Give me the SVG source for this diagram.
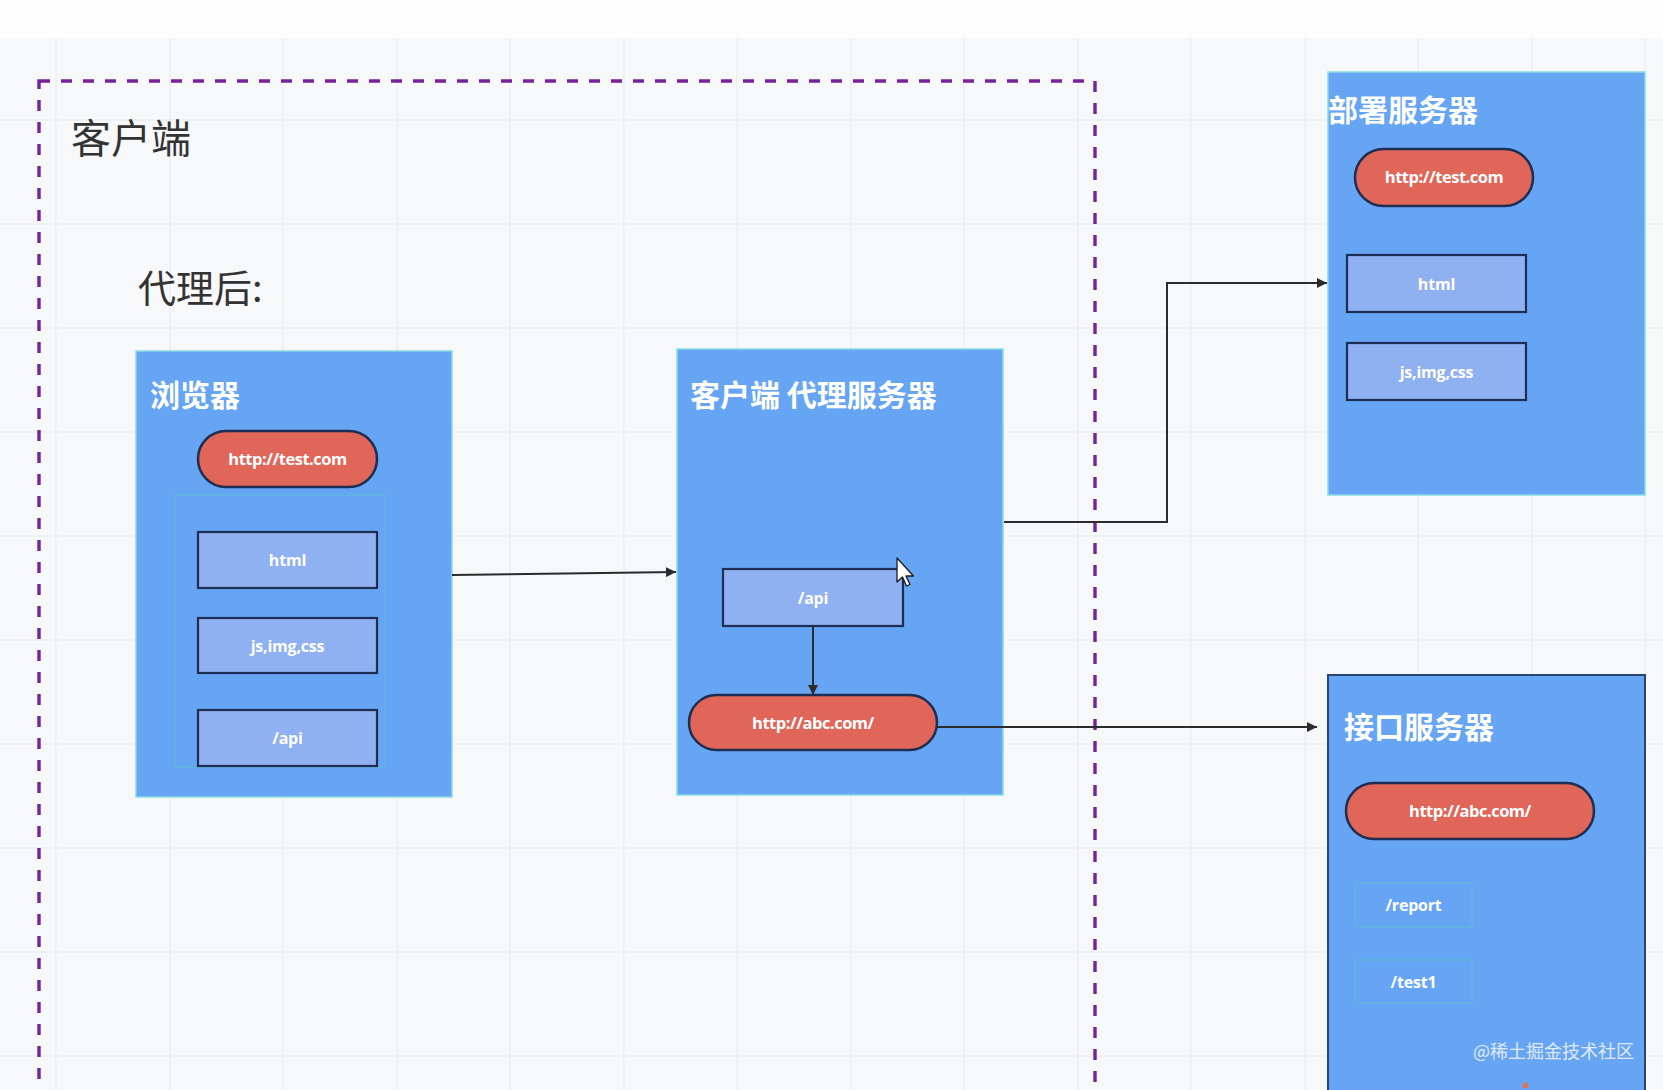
<svg xmlns="http://www.w3.org/2000/svg" width="1663" height="1090" viewBox="0 0 1663 1090">
  <defs>
    <marker id="arrow" viewBox="0 0 10 10" refX="10" refY="5" markerWidth="10" markerHeight="10" markerUnits="userSpaceOnUse" orient="auto">
      <path d="M0,0 L10,5 L0,10 Z" fill="#2b2b2b"/>
    </marker>
    <style>
      .grid line { stroke: #eceef1; stroke-width: 1.4; }
      .box { fill: #66a5f3; stroke: #86dce6; stroke-width: 1.5; }
      .box-dark { fill: #66a5f3; stroke: #2a4470; stroke-width: 2; }
      .item { fill: #8fb0f1; stroke: #1e2d52; stroke-width: 2.2; }
      .pill { fill: #df6659; stroke: #1e2d52; stroke-width: 2.5; }
      .ghost { fill: none; stroke: #5fc2cf; stroke-width: 1.2; opacity: 0.7; }
      .title { font-family: "Noto Sans CJK SC", "Noto Sans", sans-serif; font-weight: 700; font-size: 30px; fill: #ffffff; }
      .label { font-family: "Open Sans", "Liberation Sans", sans-serif; font-weight: 700; font-size: 16px; fill: #ffffff; text-anchor: middle; letter-spacing: -0.2px; }
      .url { font-size: 16.5px; letter-spacing: -0.5px; }
      .note { font-family: "Noto Sans CJK SC", "Noto Sans", sans-serif; font-weight: 400; fill: #333333; }
      .conn { fill: none; stroke: #2b2b2b; stroke-width: 2; }
    </style>
  </defs>

  <!-- canvas -->
  <rect x="0" y="0" width="1663" height="1090" fill="#f7f8fa"/>
  <rect x="0" y="0" width="1663" height="38" fill="#fdfdfd"/>

  <!-- background grid -->
  <g class="grid">
    <line x1="0" y1="120" x2="1663" y2="120"/>
    <line x1="0" y1="224" x2="1663" y2="224"/>
    <line x1="0" y1="328" x2="1663" y2="328"/>
    <line x1="0" y1="432" x2="1663" y2="432"/>
    <line x1="0" y1="536" x2="1663" y2="536"/>
    <line x1="0" y1="640" x2="1663" y2="640"/>
    <line x1="0" y1="744" x2="1663" y2="744"/>
    <line x1="0" y1="848" x2="1663" y2="848"/>
    <line x1="0" y1="952" x2="1663" y2="952"/>
    <line x1="0" y1="1056" x2="1663" y2="1056"/>
    <line x1="56" y1="38" x2="56" y2="1090"/>
    <line x1="170" y1="38" x2="170" y2="1090"/>
    <line x1="283" y1="38" x2="283" y2="1090"/>
    <line x1="397" y1="38" x2="397" y2="1090"/>
    <line x1="510" y1="38" x2="510" y2="1090"/>
    <line x1="624" y1="38" x2="624" y2="1090"/>
    <line x1="737" y1="38" x2="737" y2="1090"/>
    <line x1="851" y1="38" x2="851" y2="1090"/>
    <line x1="964" y1="38" x2="964" y2="1090"/>
    <line x1="1078" y1="38" x2="1078" y2="1090"/>
    <line x1="1191" y1="38" x2="1191" y2="1090"/>
    <line x1="1305" y1="38" x2="1305" y2="1090"/>
    <line x1="1418" y1="38" x2="1418" y2="1090"/>
    <line x1="1532" y1="38" x2="1532" y2="1090"/>
    <line x1="1645" y1="38" x2="1645" y2="1090"/>
  </g>

  <!-- client boundary -->
  <g id="client-zone">
    <rect x="39" y="81" width="1056" height="1060" fill="none" stroke="#74239a" stroke-width="3.4" stroke-dasharray="11 11"/>
    <text class="note" x="71" y="153" font-size="40">客户端</text>
    <text class="note" x="138" y="302" font-size="38">代理后:</text>
  </g>

  <!-- browser -->
  <g id="browser">
    <rect class="box" x="136" y="351" width="316" height="446"/>
    <text class="title" x="150" y="406">浏览器</text>
    <rect class="pill" x="198" y="431" width="179" height="56" rx="28"/>
    <text class="label url" x="287.5" y="465">http://test.com</text>
    <rect class="ghost" x="175" y="495" width="210" height="272"/>
    <rect class="item" x="198" y="532" width="179" height="56"/>
    <text class="label" x="287.5" y="566">html</text>
    <rect class="item" x="198" y="618" width="179" height="55"/>
    <text class="label" x="287.5" y="652">js,img,css</text>
    <rect class="item" x="198" y="710" width="179" height="56"/>
    <text class="label" x="287.5" y="744">/api</text>
  </g>

  <!-- client-side proxy -->
  <g id="proxy">
    <rect class="box" x="677" y="349" width="326" height="446"/>
    <text class="title" x="690" y="406">客户端 代理服务器</text>
    <rect class="item" x="723" y="569" width="180" height="57"/>
    <text class="label" x="813" y="604">/api</text>
    <rect class="pill" x="689" y="695" width="248" height="55" rx="27.5"/>
    <text class="label url" x="813" y="729">http://abc.com/</text>
  </g>

  <!-- deploy server -->
  <g id="deploy-server">
    <rect class="box" x="1328" y="72" width="317" height="423"/>
    <text class="title" x="1328" y="121">部署服务器</text>
    <rect class="pill" x="1355" y="149" width="178" height="57" rx="28.5"/>
    <text class="label url" x="1444" y="183">http://test.com</text>
    <rect class="item" x="1347" y="255" width="179" height="57"/>
    <text class="label" x="1436.5" y="290">html</text>
    <rect class="item" x="1347" y="343" width="179" height="57"/>
    <text class="label" x="1436.5" y="378">js,img,css</text>
  </g>

  <!-- api server -->
  <g id="api-server">
    <rect class="box-dark" x="1328" y="675" width="317" height="450"/>
    <text class="title" x="1344" y="738">接口服务器</text>
    <rect class="pill" x="1346" y="783" width="248" height="56" rx="28"/>
    <text class="label url" x="1470" y="817">http://abc.com/</text>
    <rect class="ghost" x="1355" y="883" width="117" height="44"/>
    <text class="label" x="1413.5" y="911">/report</text>
    <rect class="ghost" x="1355" y="960" width="117" height="43"/>
    <text class="label" x="1413.5" y="988">/test1</text>
  </g>

  <!-- connectors -->
  <g id="connectors">
    <path class="conn" d="M452,575 L676,572" marker-end="url(#arrow)"/>
    <path class="conn" d="M813,626 L813,695" marker-end="url(#arrow)"/>
    <path class="conn" d="M1004,522 H1167 V283 H1327" marker-end="url(#arrow)"/>
    <path class="conn" d="M937,727 H1317" marker-end="url(#arrow)"/>
  </g>

  <!-- pointer -->
  <g id="pointer">
    <path d="M897,558 L897,582 L902.5,577 L906.5,586 L910,584.5 L906,576 L913.5,576 Z" fill="#ffffff" stroke="#1a1a1a" stroke-width="1.3" stroke-linejoin="round"/>
  </g>

  <!-- watermark -->
  <text x="1473" y="1058" font-family="Noto Sans CJK SC, Noto Sans, sans-serif" font-size="18" fill="#eef2f8" opacity="0.9">@稀土掘金技术社区</text>
  <rect x="1523" y="1083" width="5" height="5" fill="#e07350"/>
</svg>
